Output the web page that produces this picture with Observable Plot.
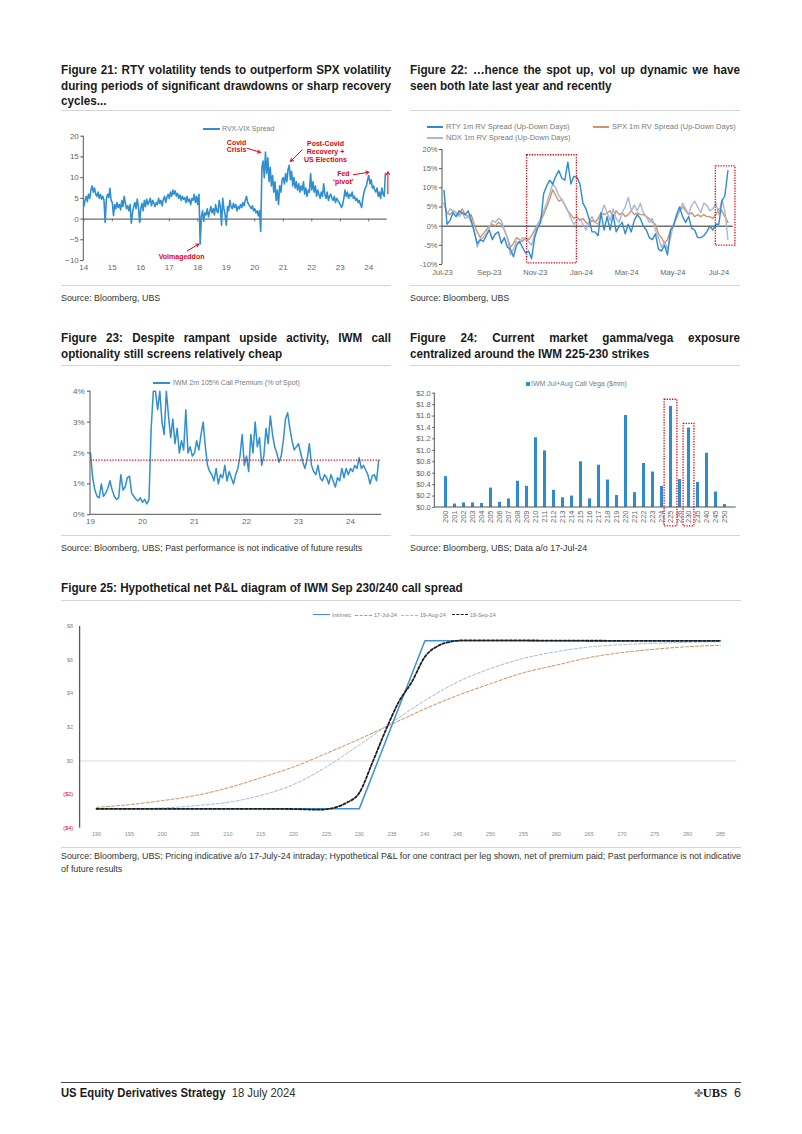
<!DOCTYPE html>
<html><head><meta charset="utf-8">
<script src="https://cdn.jsdelivr.net/npm/d3@7"></script>
<script src="https://cdn.jsdelivr.net/npm/@observablehq/plot@0.6"></script>
<style>
body{margin:0;background:#fff;width:802px;height:1134px;position:relative;overflow:hidden;font-family:"Liberation Sans",Arial,sans-serif;color:#1a1a1a}
.a{position:absolute}
.title{font-weight:bold;font-size:13px;line-height:15.5px;white-space:nowrap;transform:scaleX(0.9);transform-origin:0 0}
.j{text-align:justify;text-align-last:justify}
.hr{position:absolute;height:0;border-top:1px solid #d4d4d4}
.src{font-size:9.5px;line-height:13px;color:#333;white-space:nowrap;transform:scaleX(0.935);transform-origin:0 0}
.leg{position:absolute;font-family:"Liberation Sans",Arial,sans-serif;color:#7a7a7a;white-space:nowrap;z-index:3}
.sw{position:absolute;height:0;z-index:3}
svg{overflow:visible}
</style></head><body>

<div class="a title" style="left:61px;top:62px;width:366.7px"><div class="j">Figure 21: RTY volatility tends to outperform SPX volatility</div><div class="j">during periods of significant drawdowns or sharp recovery</div><div>cycles...</div></div>
<div class="a title" style="left:410px;top:62px;width:366.7px"><div class="j">Figure 22: …hence the spot up, vol up dynamic we have</div><div>seen both late last year and recently</div></div>
<div class="hr" style="left:61px;top:110px;width:330px"></div>
<div class="hr" style="left:410px;top:110px;width:330px"></div>
<div class="a" id="c21" style="left:61px;top:115px"></div>
<div class="a" id="c22" style="left:410px;top:140px"></div>
<div class="hr" style="left:61px;top:285px;width:330px"></div>
<div class="hr" style="left:410px;top:285px;width:330px"></div>
<div class="a src" style="left:61px;top:291px">Source: Bloomberg, UBS</div>
<div class="a src" style="left:410px;top:291px">Source: Bloomberg, UBS</div>

<div class="a title" style="left:61px;top:330px;width:366.7px"><div class="j">Figure 23: Despite rampant upside activity, IWM call</div><div>optionality still screens relatively cheap</div></div>
<div class="a title" style="left:410px;top:330px;width:366.7px"><div class="j">Figure 24: Current market gamma/vega exposure</div><div>centralized around the IWM 225-230 strikes</div></div>
<div class="hr" style="left:61px;top:365px;width:330px"></div>
<div class="hr" style="left:410px;top:365px;width:330px"></div>
<div class="a" id="c23" style="left:61px;top:372px"></div>
<div class="a" id="c24" style="left:410px;top:372px"></div>
<div class="hr" style="left:61px;top:535px;width:330px"></div>
<div class="hr" style="left:410px;top:535px;width:330px"></div>
<div class="a src" style="left:61px;top:541px">Source: Bloomberg, UBS; Past performance is not indicative of future results</div>
<div class="a src" style="left:410px;top:541px">Source: Bloomberg, UBS; Data a/o 17-Jul-24</div>

<div class="a title" style="left:61px;top:580px">Figure 25: Hypothetical net P&amp;L diagram of IWM Sep 230/240 call spread</div>
<div class="hr" style="left:61px;top:600px;width:680px"></div>
<div class="a" id="c25" style="left:61px;top:605px"></div>
<div class="hr" style="left:61px;top:847px;width:680px"></div>
<div class="a src" style="left:61px;top:849px;width:727px"><div class="j">Source: Bloomberg, UBS; Pricing indicative a/o 17-July-24 intraday; Hypothetical P&amp;L for one contract per leg shown, net of premium paid; Past performance is not indicative</div><div>of future results</div></div>

<div class="hr" style="left:61px;top:1082px;width:680px;border-top:1px solid #444"></div>
<div class="a" style="left:61px;top:1085px;font-size:12.5px;line-height:16px;white-space:nowrap;transform:scaleX(0.9);transform-origin:0 0"><b>US Equity Derivatives Strategy</b>&nbsp;&nbsp;<span style="color:#333">18 July 2024</span></div>
<div class="a" style="left:690px;top:1085px;width:51px;text-align:right;font-size:12.5px;line-height:16px;white-space:nowrap"><span style="color:#777;font-size:11px">✤</span><span style="font-family:'Liberation Serif',serif;font-weight:bold">UBS</span>&nbsp;&nbsp;6</div>

<script>
// ---------- DATA ----------
// Figure 21: RVX-VIX spread, semi-monthly from Jan 2014
const rvxStartYear = 2014;
const rvxVix = [
  3.0,4.5,5.5,4.2,6.0,5.0,7.0,8.0,6.5,7.5,6.0,5.5,6.5,5.0,6.0,4.8,5.5,4.5,-0.8,4.8,6.0,5.2,7.4,4.5,
  4.0,0.8,3.5,2.5,4.0,2.8,3.5,2.2,4.5,3.0,5.5,3.8,2.5,3.2,2.0,3.5,-1.0,1.5,3.0,4.0,2.5,4.8,3.0,-0.8,
  2.5,3.8,2.0,4.5,3.0,4.8,3.5,4.2,5.0,3.2,4.5,3.8,3.0,4.0,3.5,5.0,3.8,4.5,3.2,4.8,5.5,4.0,5.2,6.0,
  5.0,6.5,5.5,7.0,6.0,6.8,5.5,6.2,5.0,5.8,4.5,5.5,4.8,5.2,4.0,5.5,4.2,4.8,3.5,5.0,4.5,6.0,4.0,5.5,
  3.5,6.0,-6.0,0.5,2.0,-0.5,1.5,1.0,2.5,0.5,1.8,3.0,1.5,2.5,1.0,3.5,2.0,1.5,4.5,3.0,-1.5,5.0,2.5,1.0,
  -1.5,3.0,2.0,4.5,3.0,2.5,3.8,2.8,3.5,2.0,3.0,2.5,3.5,2.8,4.0,3.2,4.5,5.5,4.0,3.5,3.0,2.5,3.2,2.0,
  2.5,1.5,2.0,0.8,2.0,-3.0,12.5,14.0,10.0,16.2,11.0,14.8,9.0,12.5,8.0,10.5,6.5,9.0,4.5,7.0,3.5,8.0,6.5,9.5,
  10.0,8.5,11.0,9.0,12.0,13.0,9.5,11.5,8.0,10.0,7.5,9.0,7.0,8.5,6.5,8.0,7.0,9.0,6.0,7.5,5.5,7.0,6.5,11.0,
  7.0,9.0,6.5,8.0,5.5,7.0,6.0,5.0,6.5,5.5,8.5,6.0,5.0,6.5,4.5,5.5,6.0,5.0,4.5,5.5,4.0,5.0,4.5,4.0,
  3.5,2.8,3.5,5.0,7.0,5.5,6.5,5.0,6.0,5.5,6.5,5.0,5.5,4.5,5.0,4.0,4.5,3.5,2.8,5.0,6.5,7.5,8.0,9.5,
  10.5,8.5,9.5,7.5,8.0,7.0,6.5,7.5,5.5,6.5,5.0,7.5,6.0,5.5,11.0
];
const years21 = [2014,2015,2016,2017,2018,2019,2020,2021,2022,2023,2024];
const yTicks21 = [-10,-5,0,5,10,15,20];
const notes21 = [
  {x:2019.36, y:17.6, text:"Covid\nCrisis"},
  {x:2022.48, y:16.3, text:"Post-Covid\nRecovery +\nUS Elections"},
  {x:2023.11, y:10.0, text:"Fed\n‘pivot’"},
  {x:2017.43, y:-9.0, text:"Volmageddon"}
];
const arrows21 = [
  {x1:2019.73, y1:17.1, x2:2020.2, y2:16.1},
  {x1:2021.66, y1:16.7, x2:2021.25, y2:13.9},
  {x1:2023.46, y1:10.7, x2:2024.0, y2:11.3},
  {x1:2024.67, y1:6.1, x2:2024.67, y2:11.4},
  {x1:2017.63, y1:-7.66, x2:2018.04, y2:-6.04}
];

// Figure 22: 1m RV spreads, every 4 days from 3-Jul-23
const rvStart = "2023-07-03";
const rvStepDays = 4;
const rtySpread = [
  9.3,0.5,1.5,3.5,2.5,4.0,3.5,3.0,4.0,1.5,
  -1.5,-4.5,-3.5,-4.0,-2.5,-1.0,-3.5,-2.0,-1.5,-4.5,
  -3.0,-5.5,-6.0,-8.0,-5.0,-4.0,-5.5,-7.0,-6.5,-8.5,
  -3.0,-0.5,1.0,8.5,10.5,12.0,11.0,13.0,14.5,12.5,
  12.0,16.7,11.0,13.0,12.8,11.0,6.0,4.5,2.0,-1.5,
  -1.5,-2.5,3.5,-1.0,2.5,-1.0,3.0,-1.5,0.0,1.0,
  -2.0,0.5,-1.5,1.5,3.0,2.0,0.0,-1.0,-3.0,-3.5,
  -2.0,-6.0,-6.5,-5.0,-7.5,-1.0,0.0,3.0,5.0,2.5,
  1.0,2.5,-0.5,-1.0,-3.0,-3.0,-2.5,-1.5,0.0,-1.0,
  0.5,0.5,6.5,8.0,14.5
];
const spxSpread = [
  6.0,3.5,3.0,4.0,3.5,3.0,4.5,3.0,2.5,3.0,
  0.5,-1.5,-3.0,-2.0,-1.0,0.0,0.5,0.0,1.0,0.5,
  -1.0,-3.0,-5.5,-4.5,-3.0,-3.5,-4.0,-3.0,-3.5,-2.5,
  -1.0,0.5,1.5,3.0,5.0,7.0,9.5,8.0,6.5,7.0,
  5.5,4.0,3.0,2.0,2.5,1.5,2.0,1.0,0.5,1.5,
  1.0,2.0,3.5,3.0,3.5,4.0,2.5,4.0,3.0,3.5,
  2.5,3.0,4.0,3.0,3.5,3.0,3.0,2.5,2.0,1.0,
  0.5,-2.0,-3.0,-4.5,-3.5,-1.0,0.5,2.5,4.0,5.0,
  4.0,3.0,3.5,2.5,3.0,2.5,3.0,2.5,2.5,2.0,
  3.0,4.5,4.0,2.5,1.0
];
const ndxSpread = [
  6.0,3.0,4.5,4.0,3.5,2.5,3.5,2.0,2.5,1.0,
  -1.0,-5.5,-3.5,-3.0,-2.0,-0.5,1.5,1.0,2.0,1.5,
  -1.0,-3.0,-7.5,-6.0,-4.0,-4.5,-3.0,-3.5,-4.0,-5.0,
  -2.0,0.5,2.0,4.0,6.0,8.5,11.0,10.0,8.0,7.0,
  5.5,4.0,2.0,0.5,1.5,2.0,0.5,-1.0,1.0,2.5,
  1.0,0.5,3.0,5.5,3.5,1.5,4.5,2.0,1.0,3.5,
  5.0,7.5,4.0,5.5,4.0,6.0,3.5,2.5,1.0,2.0,
  -1.0,-3.0,-5.5,-4.0,-6.0,-3.0,0.5,2.0,4.0,6.0,
  4.5,3.0,5.5,6.5,5.0,3.5,6.0,5.5,4.0,4.5,
  6.0,3.0,7.0,4.0,-3.5
];
const seriesNames22 = ["SPX 1m RV Spread (Up-Down Days)","NDX 1m RV Spread (Up-Down Days)","RTY 1m RV Spread (Up-Down Days)"];
const seriesColors22 = ["#cf9467","#aab5da","#2d8bd0"];
const xTicks22 = ["2023-07-01","2023-09-01","2023-11-01","2024-01-01","2024-03-01","2024-05-01","2024-07-01"];
const xDomain22 = ["2023-07-01","2024-07-20"];
const yTicks22 = [-10,-5,0,5,10,15,20];
const boxes22 = [
  {start:"2023-10-21", end:"2023-12-26", lo:-9.7, hi:18.5},
  {start:"2024-06-27", end:"2024-07-23", lo:-5.1, hi:15.6}
];

// Figure 23: IWM 2m 105% call premium (% of spot), semi-monthly from Jan 2019
const premStartYear = 2019;
const callPremium = [
  2.0,1.2,0.8,0.6,0.55,1.0,0.6,0.7,0.85,1.1,0.8,0.6,0.5,0.55,1.3,0.8,0.9,1.2,1.25,0.7,0.6,0.5,0.45,0.55,
  0.4,0.5,0.35,0.5,2.8,4.0,4.0,3.4,4.0,3.0,2.6,4.0,3.2,2.5,3.1,2.3,2.8,2.0,2.4,2.1,3.4,2.0,2.2,1.9,
  2.0,2.4,2.1,2.6,3.0,2.2,1.6,1.4,1.3,1.1,1.5,1.0,1.3,1.2,1.6,1.1,1.4,1.2,1.0,1.3,1.5,1.9,2.6,1.6,
  1.9,1.4,2.6,2.0,3.0,2.2,2.5,1.6,1.9,2.8,2.3,3.2,2.6,2.2,2.0,1.7,1.9,2.4,3.1,3.3,2.8,2.4,2.1,2.2,
  2.3,2.0,1.7,1.5,1.8,2.3,1.6,1.4,1.3,1.6,1.2,1.1,1.3,1.2,1.0,1.3,1.1,0.9,1.2,1.1,1.5,1.2,1.5,1.3,
  1.5,1.4,1.6,1.5,1.85,1.5,1.6,1.45,1.3,1.0,1.25,1.3,1.1,1.75
];
const premAverage = 1.77;
const years23 = [2019,2020,2021,2022,2023,2024];
const yTicks23 = [0,1,2,3,4];

// Figure 24: IWM Jul+Aug call vega ($mm) by strike
const strikes24 = ["200","201","202","203","204","205","206","207","208","209","210","211","212","213","214","215","216","217","218","219","220","221","222","223","224","225","226","230","235","240","245","250"];
const vega24 = [0.54,0.06,0.08,0.08,0.07,0.34,0.09,0.15,0.46,0.37,1.22,0.99,0.30,0.17,0.20,0.80,0.15,0.74,0.48,0.21,1.61,0.26,0.77,0.62,0.37,1.77,0.49,1.39,0.44,0.95,0.27,0.05];
const yTicks24 = [0,0.2,0.4,0.6,0.8,1.0,1.2,1.4,1.6,1.8,2.0];
const highlight24a = [{strike:"225", lo:-0.33, hi:1.885}];
const highlight24b = [{strike:"230", lo:-0.33, hi:1.465}];

// Figure 25: net P&L of IWM Sep 230/240 call spread
const strikes25 = [190,195,200,205,210,215,220,225,230,235,240,245,250,255,260,265,270,275,280,285];
const intrinsicX = [190,230,240,285];
const intrinsicY = [-2.85,-2.85,7.15,7.15];
const pnlJulX = [190,195,200,205,210,215,220,225,230,235,240,245,250,255,260,265,270,275,280,285];
const pnlJulY = [-2.76,-2.6,-2.36,-2.06,-1.6,-1.0,-0.35,0.45,1.3,2.2,3.1,3.9,4.6,5.25,5.7,6.15,6.45,6.65,6.8,6.88];
const pnlAugX = [190,195,200,205,210,215,220,225,230,235,240,245,250,255,260,265,270,275,280,285];
const pnlAugY = [-2.85,-2.84,-2.8,-2.66,-2.46,-2.05,-1.4,-0.35,0.95,2.3,3.6,4.7,5.5,6.1,6.5,6.78,6.92,7.0,7.06,7.1];
const pnlSepX = [190,195,200,205,210,215,220,224,226,228,230,232,234,236,238,240,242,244,246,250,255,260,270,285];
const pnlSepY = [-2.85,-2.85,-2.85,-2.85,-2.85,-2.85,-2.86,-2.9,-2.8,-2.5,-1.9,-0.1,1.8,3.5,4.7,6.2,6.85,7.1,7.18,7.18,7.17,7.16,7.15,7.15];
const xDomain25 = [187.5, 287.5];
const yTicksPos25 = [0,2,4,6,8];
const yTicksNeg25 = [-2,-4];

// ---------- HELPERS ----------
const RED = "#e3000f";
const FONT = '"Liberation Sans", Arial, sans-serif';
function spine(side, stroke="#595959", w=1) {
  return (index, scales, values, dim) => {
    const l = d3.create("svg:line").attr("stroke", stroke).attr("stroke-width", w);
    if (side === "left") l.attr("x1", dim.marginLeft).attr("x2", dim.marginLeft).attr("y1", dim.marginTop).attr("y2", dim.height - dim.marginBottom);
    else l.attr("y1", dim.height - dim.marginBottom).attr("y2", dim.height - dim.marginBottom).attr("x1", dim.marginLeft).attr("x2", dim.width - dim.marginRight);
    return l.node();
  };
}
function put(id, chart) { document.getElementById(id).appendChild(chart); }
function legend(items) {
  for (const it of items) {
    const sw = document.createElement("div");
    sw.className = "sw";
    if (it.square) {
      sw.style.cssText = `left:${it.x}px;top:${it.y - it.square/2}px;width:${it.square}px;height:${it.square}px;background:${it.color}`;
    } else {
      sw.style.cssText = `left:${it.x}px;top:${it.y - it.lw/2}px;width:${it.w}px;border-top:${it.lw}px ${it.dash ? "dashed" : "solid"} ${it.color}`;
    }
    document.body.appendChild(sw);
    const t = document.createElement("div");
    t.className = "leg";
    t.style.cssText = `left:${it.tx}px;top:${it.y - it.fs*0.62}px;font-size:${it.fs}px;line-height:${it.fs*1.2}px`;
    t.textContent = it.text;
    document.body.appendChild(t);
  }
}

// ---------- FIGURE 21 ----------
const rvxData = rvxVix.map((v, i) => ({t: rvxStartYear + i/24, v}));
put("c21", Plot.plot({
  width: 330, height: 165, marginLeft: 22.3, marginRight: 4.2, marginTop: 20.7, marginBottom: 20,
  style: {fontFamily: FONT, fontSize: "8px", color: "#666", background: "transparent", overflow: "visible"},
  x: {domain: [2014, 2024.65]},
  y: {domain: [-10, 20]},
  marks: [
    Plot.ruleY([0], {stroke: "#6e6e6e", strokeWidth: 1.3}),
    Plot.ruleX(years21, {y1: 0, y2: -0.7, stroke: "#6e6e6e"}),
    Plot.axisY({ticks: yTicks21, tickSize: 3, tickPadding: 2, stroke: "#555", label: null}),
    Plot.axisX({ticks: years21, tickFormat: d => String(d - 2000), tickSize: 0, tickPadding: 4, label: null}),
    spine("left", "#555"),
    Plot.line(rvxData, {x: "t", y: "v", stroke: "#2f8fd0", strokeWidth: 1.6}),
    Plot.arrow(arrows21, {x1: "x1", y1: "y1", x2: "x2", y2: "y2", stroke: RED, strokeWidth: 1, headLength: 5}),
    Plot.text(notes21, {x: "x", y: "y", text: "text", fill: RED, fontWeight: "bold", fontSize: 7, lineHeight: 1.1})
  ]
}));
legend([{x: 203, y: 129, w: 17, lw: 2, color: "#2f8fd0", tx: 222, fs: 7, text: "RVX-VIX Spread"}]);

// ---------- FIGURE 22 ----------
const seriesVals22 = [spxSpread, ndxSpread, rtySpread];
const rvData = [];
seriesVals22.forEach((arr, k) => arr.forEach((v, i) => rvData.push({
  date: d3.utcDay.offset(new Date(rvStart), rvStepDays * i), v, s: seriesNames22[k]
})));
put("c22", Plot.plot({
  width: 330, height: 140, marginLeft: 32, marginRight: 7.3, marginTop: 9, marginBottom: 16,
  style: {fontFamily: FONT, fontSize: "7.5px", color: "#666", background: "transparent", overflow: "visible"},
  x: {type: "utc", domain: xDomain22.map(d => new Date(d))},
  y: {domain: [-10, 20]},
  color: {domain: seriesNames22, range: seriesColors22},
  marks: [
    Plot.axisY({ticks: yTicks22, tickFormat: d => d + "%", tickSize: 3, tickPadding: 2, stroke: "#555", label: null}),
    Plot.axisX({ticks: xTicks22.map(d => new Date(d)), tickFormat: d3.utcFormat("%b-%y"), tickSize: 0, tickPadding: 5, label: null}),
    spine("left", "#555"),
    Plot.ruleY([0], {stroke: "#6e6e6e", strokeWidth: 1.5}),
    Plot.line(rvData, {x: "date", y: "v", z: "s", stroke: "s", strokeWidth: 1.4}),
    Plot.rect(boxes22, {x1: d => new Date(d.start), x2: d => new Date(d.end), y1: "lo", y2: "hi", fill: "none", stroke: RED, strokeWidth: 1.3, strokeDasharray: "1.3,1.3"})
  ]
}));
legend([
  {x: 427, y: 127, w: 16, lw: 2, color: seriesColors22[2], tx: 446, fs: 7.5, text: seriesNames22[2]},
  {x: 593, y: 127, w: 16, lw: 2, color: seriesColors22[0], tx: 612, fs: 7.5, text: seriesNames22[0]},
  {x: 427, y: 138, w: 16, lw: 2, color: seriesColors22[1], tx: 446, fs: 7.5, text: seriesNames22[1]}
]);

// ---------- FIGURE 23 ----------
const premData = callPremium.map((v, i) => ({t: premStartYear + i/24, v}));
put("c23", Plot.plot({
  width: 330, height: 160, marginLeft: 29, marginRight: 9.8, marginTop: 18.7, marginBottom: 17.7,
  style: {fontFamily: FONT, fontSize: "8px", color: "#666", background: "transparent", overflow: "visible"},
  x: {domain: [2019, 2024.6]},
  y: {domain: [0, 4]},
  marks: [
    Plot.axisY({ticks: yTicks23, tickFormat: d => d + "%", tickSize: 3, tickPadding: 3, stroke: "#555", label: null}),
    Plot.axisX({ticks: years23, tickFormat: d => String(d - 2000), tickSize: 0, tickPadding: 4, label: null}),
    Plot.line(premData, {x: "t", y: "v", stroke: "#2f8fd0", strokeWidth: 1.5}),
    Plot.ruleY([premAverage], {stroke: RED, strokeWidth: 1.2, strokeDasharray: "1.3,1.5"}),
    spine("left", "#555"),
    spine("bottom", "#555")
  ]
}));
legend([{x: 153, y: 383, w: 17, lw: 2, color: "#2f8fd0", tx: 173, fs: 7, text: "IWM 2m 105% Call Premium (% of Spot)"}]);

// ---------- FIGURE 24 ----------
const vegaData = strikes24.map((s, i) => ({strike: s, v: vega24[i]}));
put("c24", Plot.plot({
  width: 330, height: 160, marginLeft: 24.3, marginRight: 4.3, marginTop: 20.7, marginBottom: 25,
  style: {fontFamily: FONT, fontSize: "7.5px", color: "#666", background: "transparent", overflow: "visible"},
  x: {type: "band", domain: strikes24, paddingInner: 0.7, paddingOuter: 0.35},
  y: {domain: [0, 2]},
  marks: [
    Plot.axisY({ticks: yTicks24, tickFormat: d => "$" + d.toFixed(1), tickSize: 2, tickPadding: 2, stroke: "#555", label: null}),
    Plot.axisX({tickRotate: -90, tickSize: 0, tickPadding: 3, label: null}),
    Plot.barY(vegaData, {x: "strike", y: "v", fill: "#2e8bcc"}),
    Plot.barY(highlight24a, {x: "strike", y1: "lo", y2: "hi", fill: "none", stroke: RED, strokeWidth: 1.3, strokeDasharray: "1.3,1.3", insetLeft: -4.9, insetRight: -4.9}),
    Plot.barY(highlight24b, {x: "strike", y1: "lo", y2: "hi", fill: "none", stroke: RED, strokeWidth: 1.3, strokeDasharray: "1.3,1.3", insetLeft: -3.9, insetRight: -3.9}),
    spine("left", "#555"),
    spine("bottom", "#555")
  ]
}));
legend([{x: 526, y: 384, square: 3.5, color: "#2e8bcc", tx: 531, fs: 7, text: "IWM Jul+Aug Call Vega ($mm)"}]);

// ---------- FIGURE 25 ----------
const toRows = (xs, ys, name) => xs.map((x, i) => ({k: x, v: ys[i], s: name}));
put("c25", Plot.plot({
  width: 680, height: 240, marginLeft: 18.6, marginRight: 4.6, marginTop: 21, marginBottom: 17.3,
  style: {fontFamily: FONT, fontSize: "5.5px", color: "#8a8a8a", background: "transparent", overflow: "visible"},
  x: {domain: xDomain25},
  y: {domain: [-4, 8]},
  marks: [
    Plot.ruleY([0], {stroke: "#dcdcdc"}),
    Plot.axisX({ticks: strikes25, tickSize: 0, tickPadding: 4, label: null}),
    Plot.axisY({ticks: yTicksPos25, tickFormat: d => "$" + d, tickSize: 0, tickPadding: 7, label: null}),
    Plot.axisY({ticks: yTicksNeg25, tickFormat: d => "($" + (-d) + ")", tickSize: 0, tickPadding: 7, fill: RED, label: null}),
    spine("left", "#595959", 1.3),
    Plot.line(toRows(pnlJulX, pnlJulY, "17-Jul-24"), {x: "k", y: "v", stroke: "#d38b5c", strokeWidth: 1, strokeDasharray: "3,2", curve: "monotone-x"}),
    Plot.line(toRows(pnlAugX, pnlAugY, "19-Aug-24"), {x: "k", y: "v", stroke: "#a3b9d8", strokeWidth: 1, strokeDasharray: "3,2", curve: "monotone-x"}),
    Plot.line(toRows(intrinsicX, intrinsicY, "Intrinsic"), {x: "k", y: "v", stroke: "#3d92cf", strokeWidth: 1.5}),
    Plot.line(toRows(pnlSepX, pnlSepY, "19-Sep-24"), {x: "k", y: "v", stroke: "#1e1e1e", strokeWidth: 1.8, strokeDasharray: "2.5,2", curve: "monotone-x"})
  ]
}));
legend([
  {x: 313, y: 615, w: 17, lw: 1.5, color: "#3d92cf", tx: 332, fs: 5.5, text: "Intrinsic"},
  {x: 355, y: 615, w: 17, lw: 1, dash: true, color: "#d38b5c", tx: 374, fs: 5.5, text: "17-Jul-24"},
  {x: 401, y: 615, w: 17, lw: 1, dash: true, color: "#a3b9d8", tx: 420, fs: 5.5, text: "19-Aug-24"},
  {x: 452, y: 615, w: 16, lw: 1.8, dash: true, color: "#1e1e1e", tx: 470, fs: 5.5, text: "19-Sep-24"}
]);
</script>
</body></html>
